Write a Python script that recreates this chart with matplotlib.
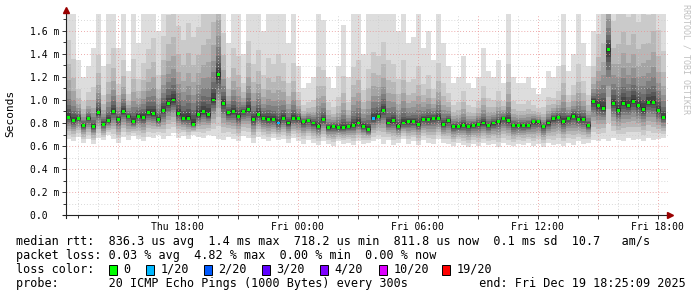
import matplotlib
matplotlib.use('Agg')
import matplotlib.pyplot as plt
from matplotlib.patches import Rectangle
import numpy as np

# time axis: hours since Thu 00:00, one value every 15 minutes
start_hour = 12 + 25 / 60
step_hours = 0.25

# median rtt per step (ms)
median_ms = [
    0.85, 0.82, 0.84, 0.78, 0.84, 0.77, 0.89, 0.79, 0.82, 0.90, 0.83, 0.90, 0.86, 0.81, 0.86, 0.85,
    0.89, 0.88, 0.83, 0.91, 0.97, 1.00, 0.88, 0.84, 0.84, 0.79, 0.87, 0.90, 0.87, 1.00, 1.22,
    0.97, 0.89, 0.90, 0.86, 0.90, 0.92, 0.83, 0.87, 0.84, 0.83, 0.83, 0.80, 0.84, 0.80, 0.84,
    0.84, 0.81, 0.82, 0.80, 0.77, 0.83, 0.76, 0.77, 0.76, 0.76, 0.77, 0.78, 0.80, 0.77, 0.74,
    0.84, 0.86, 0.91, 0.80, 0.82, 0.77, 0.80, 0.81, 0.81, 0.79, 0.83, 0.83, 0.84, 0.84, 0.79,
    0.82, 0.77, 0.77, 0.78, 0.77, 0.78, 0.79, 0.80, 0.78, 0.80, 0.81, 0.84, 0.82, 0.78, 0.78,
    0.78, 0.78, 0.81, 0.81, 0.77, 0.80, 0.84, 0.85, 0.81, 0.84, 0.86, 0.83, 0.83, 0.78, 0.99, 0.95,
    0.93, 1.44, 0.97, 0.91, 0.97, 0.95, 0.99, 0.95, 0.92, 0.98, 0.98, 0.91, 0.85,
]

# fastest ping per step (ms)
min_ms = [
    0.66, 0.64, 0.68, 0.63, 0.66, 0.62, 0.67, 0.65, 0.70, 0.66, 0.63, 0.68, 0.65, 0.69, 0.66, 0.64,
    0.68, 0.67, 0.70, 0.66, 0.69, 0.71, 0.67, 0.69, 0.66, 0.70, 0.68, 0.67, 0.70, 0.69, 0.66,
    0.65, 0.68, 0.66, 0.64, 0.69, 0.67, 0.63, 0.68, 0.66, 0.64, 0.67, 0.65, 0.66, 0.63, 0.67,
    0.64, 0.62, 0.65, 0.63, 0.61, 0.64, 0.62, 0.60, 0.64, 0.62, 0.63, 0.61, 0.64, 0.62, 0.63,
    0.64, 0.66, 0.62, 0.65, 0.61, 0.63, 0.66, 0.62, 0.64, 0.61, 0.65, 0.63, 0.62, 0.66, 0.63,
    0.62, 0.60, 0.63, 0.61, 0.59, 0.62, 0.60, 0.63, 0.61, 0.62, 0.59, 0.63, 0.61, 0.60, 0.62,
    0.61, 0.63, 0.60, 0.62, 0.59, 0.63, 0.61, 0.62, 0.60, 0.63, 0.61, 0.64, 0.62, 0.63, 0.65, 0.64,
    0.66, 0.64, 0.67, 0.65, 0.64, 0.67, 0.65, 0.66, 0.64, 0.67, 0.65, 0.66, 0.67,
]

# slowest ping per step (ms), may be above the top of the chart
max_ms = [
    2.2, 1.9, 1.35, 1.2, 1.3, 1.45, 1.9, 1.3, 1.8, 2.0, 1.45, 1.8, 1.25, 1.9, 1.5, 1.8,
    2.0, 2.2, 1.6, 2.2, 2.5, 2.6, 2.4, 2.2, 2.5, 2.3, 2.4, 2.6, 2.8, 3.0, 3.2,
    2.2, 1.5, 2.0, 1.9, 1.4, 2.1, 1.8, 2.0, 1.6, 1.9, 1.8, 2.0, 1.8, 1.5, 1.8,
    1.3, 1.1, 1.15, 1.2, 1.8, 1.7, 1.2, 1.1, 1.3, 1.65, 1.2, 1.8, 1.9, 1.4, 1.8,
    2.0, 1.9, 2.1, 1.9, 1.8, 1.6, 1.9, 1.5, 1.55, 1.8, 1.45, 1.6, 1.35, 1.8, 1.5,
    1.3, 1.15, 1.2, 1.38, 1.15, 1.1, 1.2, 1.45, 1.25, 1.2, 1.35, 1.15, 1.8, 1.2, 1.15,
    1.15, 1.2, 1.1, 1.05, 1.1, 1.25, 1.2, 1.3, 1.8, 1.25, 1.4, 1.8, 1.5, 1.3, 1.6, 2.2,
    2.6, 3.0, 2.4, 2.6, 2.8, 2.5, 2.7, 2.4, 2.6, 2.5, 2.8, 2.3, 2.0,
]

# steps where 1 of 20 pings was lost
loss_steps = [42, 61]

x_tick_hours = [18, 24, 30, 36, 42]
x_tick_labels = ['Thu 18:00', 'Fri 00:00', 'Fri 06:00', 'Fri 12:00', 'Fri 18:00']
y_ticks = [0.0, 0.2, 0.4, 0.6, 0.8, 1.0, 1.2, 1.4, 1.6]
y_tick_labels = ['0.0  ', '0.2 m', '0.4 m', '0.6 m', '0.8 m', '1.0 m', '1.2 m', '1.4 m', '1.6 m']

loss_labels = ['0', '1/20', '2/20', '3/20', '4/20', '10/20', '19/20']
loss_colors = ['#00ff00', '#00b8ff', '#0059ff', '#5e00ff', '#7e00ff', '#dd00ff', '#ff0000']

legend_lines = [
    'median rtt:  836.3 us avg  1.4 ms max  718.2 us min  811.8 us now  0.1 ms sd  10.7   am/s',
    'packet loss: 0.03 % avg  4.82 % max  0.00 % min  0.00 % now',
    'loss color:',
    'probe:       20 ICMP Echo Pings (1000 Bytes) every 300s          end: Fri Dec 19 18:25:09 2025',
]

W, H = 697, 297
MONO = 'DejaVu Sans Mono'


def fpos(x, y):
    return x / W, 1 - y / H


fig = plt.figure(figsize=(W / 100, H / 100), dpi=100)
ax = fig.add_axes([66 / W, (H - 215) / H, 602 / W, (215 - 13.75) / H])

med = np.array(median_ms)
lo = np.array(min_ms)
hi = np.array(max_ms)
n = len(med)
edges = start_hour + step_hours * np.arange(n + 1)
centers = edges[:-1] + step_hours / 2

# smoke: 20 sorted pings, outer pairs light grey, inner pairs dark
up_frac = [0.01, 0.03, 0.05, 0.08, 0.12, 0.17, 0.24, 0.34, 0.50, 1.0]
dn_frac = [0.03, 0.08, 0.14, 0.22, 0.30, 0.40, 0.52, 0.65, 0.80, 1.0]
for i in range(10):
    top = med + (hi - med) * up_frac[9 - i]
    bot = med - (med - lo) * dn_frac[9 - i]
    g = int(19 * (9 - i)) + 50
    col = '#%02x%02x%02x' % (g, g, g)
    ax.fill_between(edges, np.append(bot, bot[-1]), np.append(top, top[-1]),
                    step='post', color=col, lw=0, zorder=1)

# grid
dots = (0, (1, 2.5))
for h in range(13, 43):
    if h % 3:
        ax.axvline(h, color='#cccccc', lw=0.6, ls=dots, zorder=2)
for h in range(15, 43, 3):
    ax.axvline(h, color='#e89090', lw=0.6, ls=dots, zorder=2)
for k in range(1, 18, 2):
    ax.axhline(k / 10, color='#cccccc', lw=0.6, ls=dots, zorder=2)
for k in range(1, 9):
    ax.axhline(k / 5, color='#e89090', lw=0.6, ls=dots, zorder=2)

# median marks coloured by loss
mark_colors = [loss_colors[1] if k in loss_steps else loss_colors[0] for k in range(n)]
ax.bar(centers, 0.026, width=0.15, bottom=med - 0.013, color=mark_colors, lw=0, zorder=3)

ax.set_xlim(start_hour, start_hour + 30.1)
ax.set_ylim(0, 1.75)
for s in ax.spines.values():
    s.set_visible(False)

major_x = list(range(15, 43, 3))
ax.set_xticks(major_x)
ax.set_xticklabels([x_tick_labels[x_tick_hours.index(h)] if h in x_tick_hours else '' for h in major_x])
ax.set_xticks(range(13, 43), minor=True)
ax.set_yticks(y_ticks)
ax.set_yticklabels(y_tick_labels)
ax.set_yticks(np.arange(0.1, 1.75, 0.2), minor=True)
ax.tick_params(which='major', length=3, width=0.7, color='#333333', pad=2,
               labelsize=7, labelfontfamily=MONO)
ax.tick_params(which='minor', length=2, width=0.7, color='#333333')

# axis lines with arrows
ax.plot([start_hour - 0.15, start_hour + 30.2], [0, 0], color='#222222', lw=0.8, clip_on=False, zorder=4)
ax.plot([start_hour, start_hour], [-0.03, 1.77], color='#222222', lw=0.8, clip_on=False, zorder=4)
ax.plot([start_hour], [1.78], marker='^', ms=4.5, color='#990000', clip_on=False, zorder=5)
ax.plot([start_hour + 30.2], [0], marker='>', ms=4.5, color='#990000', clip_on=False, zorder=5)

fig.text(*fpos(10, 113), 'Seconds', rotation=90, ha='center', va='center',
         fontsize=8, family=MONO)
fig.text(*fpos(686, 59), 'RRDTOOL / TOBI OETIKER', rotation=270, ha='center', va='center',
         fontsize=6, family=MONO, color='#c0c0c0')

# legend block
line_y = [241, 256, 269.5, 284]
for txt, y in zip(legend_lines, line_y):
    fig.text(*fpos(16, y), txt, ha='left', va='center', fontsize=8.45, family=MONO)

box_x = [109, 146, 204, 262, 320, 379, 442]
for bx, lab, col in zip(box_x, loss_labels, loss_colors):
    fig.patches.append(Rectangle(fpos(bx, 274.5), 8 / W, 10 / H, transform=fig.transFigure,
                                 facecolor=col, edgecolor='black', lw=0.7))
    fig.text(*fpos(bx + 14.5, 269.5), lab, ha='left', va='center', fontsize=8.45, family=MONO)

fig.savefig('out.png', dpi=100, facecolor='white')
